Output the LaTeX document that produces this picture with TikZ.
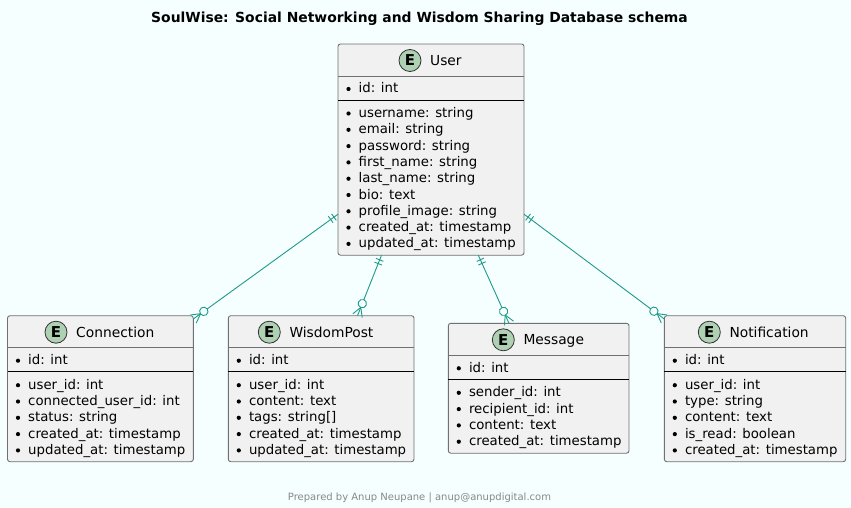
\documentclass[tikz,border=0pt]{standalone}
\usepackage{fontspec}
\setmainfont{DejaVu Sans}
\usetikzlibrary{fit,decorations.markings}
\definecolor{bgc}{HTML}{F5FFFF}
\definecolor{boxfill}{HTML}{F1F1F1}
\definecolor{boxborder}{HTML}{707070}
\definecolor{relc}{HTML}{1F9A8A}
\definecolor{ecircle}{HTML}{ADD1B2}
\definecolor{footc}{HTML}{888888}
\tikzset{
  ebox/.style={draw=boxborder, fill=boxfill, rounded corners=2.5pt, line width=0.9pt, inner sep=0pt, outer sep=0pt},
  hsep/.style={draw=boxborder, line width=0.9pt},
  dsep/.style={draw=black, line width=0.9pt},
  ecirc/.style={circle, fill=ecircle, draw=black!80, line width=0.8pt, minimum size=22pt, inner sep=0pt, font=\bfseries\fontsize{15}{15}\selectfont},
  etitle/.style={anchor=base west, inner sep=0pt, font=\fontsize{13.8}{16}\selectfont},
  attr/.style={anchor=base west, inner sep=0pt, font=\fontsize{13.3}{16}\selectfont},
  rel/.style={draw=relc, line width=0.9pt, postaction={decorate}, decoration={markings,
    mark=at position 5pt with {\draw[relc, line width=0.9pt] (0,-4pt) -- (0,4pt);},
    mark=at position 9pt with {\draw[relc, line width=0.9pt] (0,-4pt) -- (0,4pt);},
    mark=at position -13pt with {\draw[relc, fill=bgc, line width=0.9pt] (0,0) circle (4.2pt);},
    mark=at position 1 with {\draw[relc, line width=0.9pt] (-9pt,0) -- (0,5pt) (-9pt,0) -- (0,-5pt);}}},
}
% #1 name, #2 left, #3 top, #4 right, #5 bottom, #6 title, #7 circle x, #8 attributes
\newcommand{\erent}[8]{%
  \node[ebox, fit={(#2,#3) (#4,#5)}] (#1) {};
  \draw[hsep] (#2,{#3+32}) -- (#4,{#3+32});
  \node[ecirc] (#1-e) at (#7,{#3+16.5}) {E};
  \node[etitle] (#1-t) at ({#7+20},{#3+21.5}) {#6};
  \fill ({#2+10.5},{#3+45}) circle (2.1pt);
  \node[attr] (#1-id) at ({#2+20.5},{#3+49}) {id: int};
  \draw[dsep] (#2,{#3+56}) -- (#4,{#3+56});
  \foreach \a [count=\i from 0] in {#8}{%
    \fill ({#2+10.5},{#3+69.5+16.3*\i}) circle (2.1pt);
    \node[attr] (#1-a\i) at ({#2+20.5},{#3+73.5+16.3*\i}) {\a};
  }%
}
\begin{document}
\begin{tikzpicture}[x=1pt,y=-1pt]
\fill[bgc] (0,0) rectangle (851,508);
\useasboundingbox (0,0) rectangle (851,508);
\node[inner sep=0pt, font=\bfseries\fontsize{13.9}{16}\selectfont, anchor=base] (title) at (419.5,23) {SoulWise: Social Networking and Wisdom Sharing Database schema};

\erent{user}{338}{44}{524}{255.2}{User}{410}{username: string, email: string, password: string, first\_name: string, last\_name: string, bio: text, profile\_image: string, created\_at: timestamp, updated\_at: timestamp}
\erent{conn}{7.5}{315.7}{193.3}{461.7}{Connection}{56}{user\_id: int, connected\_user\_id: int, status: string, created\_at: timestamp, updated\_at: timestamp}
\erent{wis}{228.3}{315.7}{414}{461.7}{WisdomPost}{269.3}{user\_id: int, content: text, tags: string[], created\_at: timestamp, updated\_at: timestamp}
\erent{msg}{448.3}{323.3}{629}{453.2}{Message}{503.3}{sender\_id: int, recipient\_id: int, content: text, created\_at: timestamp}
\erent{notif}{664.3}{315.7}{845.7}{461.7}{Notification}{709.3}{user\_id: int, type: string, content: text, is\_read: boolean, created\_at: timestamp}

\draw[rel] ([yshift=41pt]user.south west) -- ([yshift=-3.3pt]conn.north east);
\draw[rel] ([xshift=43.5pt]user.south west) -- ([xshift=129.2pt]wis.north west);
\draw[rel] ([xshift=140.3pt]user.south west) -- ([xshift=60.7pt]msg.north west);
\draw[rel] ([yshift=41pt]user.south east) -- ([yshift=-3.3pt]notif.north west);

\node[inner sep=0pt, text=footc, font=\fontsize{10}{12}\selectfont, anchor=base] (footer) at (419.5,500) {Prepared by Anup Neupane | anup@anupdigital.com};
\end{tikzpicture}
\end{document}
